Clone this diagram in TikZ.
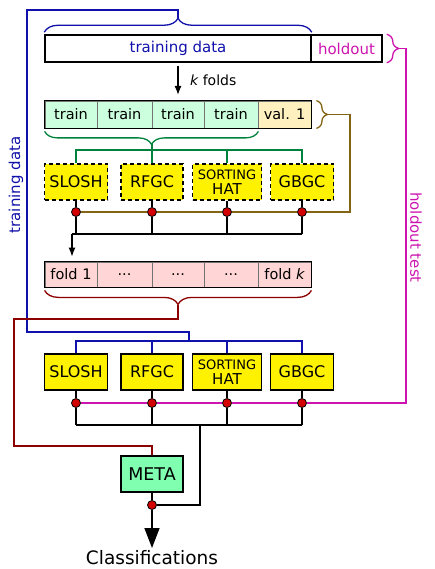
\documentclass[tikz,border=0pt]{standalone}
\usepackage{fontspec}
\setmainfont{DejaVu Sans}
\usetikzlibrary{arrows.meta,decorations.pathreplacing}
\definecolor{tdblue}{RGB}{16,16,170}
\definecolor{hmag}{RGB}{205,20,175}
\definecolor{grn}{RGB}{0,130,60}
\definecolor{olivec}{RGB}{130,100,20}
\definecolor{dred}{RGB}{140,0,0}
\definecolor{trainfill}{RGB}{204,255,221}
\definecolor{valfill}{RGB}{255,240,192}
\definecolor{foldfill}{RGB}{255,213,213}
\definecolor{metafill}{RGB}{128,255,176}
\definecolor{dotred}{RGB}{210,0,0}
\tikzset{
  bigbox/.style={draw=black, line width=1.5pt, minimum height=27pt, inner sep=0pt, font=\fontsize{15}{17}\selectfont},
  cell/.style={draw=black!55, line width=0.8pt, minimum height=27pt, inner sep=0pt, font=\fontsize{14.5}{16}\selectfont},
  clf/.style={draw=black, line width=1.5pt, fill=yellow, minimum height=36pt, inner sep=0pt, font=\fontsize{16}{18}\selectfont, align=center},
  clfd/.style={clf, dash pattern=on 4pt off 3pt},
  dotn/.style={circle, draw=black, fill=dotred, line width=0.8pt, minimum size=9pt, inner sep=0pt},
  conn/.style={line width=1.3pt},
  brc/.style={decorate, decoration={brace, amplitude=#1}, line width=1.3pt},
}
\begin{document}
\begin{tikzpicture}[x=1pt,y=-1pt]
\useasboundingbox (0,0) rectangle (435,569);
% top row
\node[bigbox, minimum width=266pt, text=tdblue] (td) at (178,48.5) {training data};
\node[bigbox, minimum width=71pt, text=hmag] (ho) at (346.5,48.5) {holdout};
% folds row
\node[cell, fill=trainfill, minimum width=52pt] (c1) at (71,114.5) {train};
\node[cell, fill=trainfill, minimum width=55pt] (c2) at (124.5,114.5) {train};
\node[cell, fill=trainfill, minimum width=52pt] (c3) at (178,114.5) {train};
\node[cell, fill=trainfill, minimum width=54pt] (c4) at (231,114.5) {train};
\node[cell, fill=valfill, minimum width=53pt] (c5) at (284.5,114.5) {val. 1};
\draw[line width=1.5pt] (c1.north west) rectangle (c5.south east);
% k folds arrow
\coordinate (ka) at (178,66);
\coordinate (kb) at (178,95);
\draw[conn, -{Latex[length=9pt,width=7pt]}] (ka) -- (kb);
\node[anchor=west, inner sep=0pt, font=\fontsize{14}{16}\selectfont] (kf) at (190,80) {\itshape k\upshape\ folds};
% level 1 classifiers
\node[clfd, minimum width=63pt] (s1) at (76,182) {SLOSH};
\node[clfd, minimum width=62pt] (s2) at (152,182) {RFGC};
\node[clfd, minimum width=69pt] (s3) at (227,182) {{\fontsize{13}{13}\selectfont SORTING}\\[-3pt]{\fontsize{15}{15}\selectfont HAT}};
\node[clfd, minimum width=63pt] (s4) at (302,182) {GBGC};
\node[dotn] (d1) at (76,212) {};
\node[dotn] (d2) at (152,212) {};
\node[dotn] (d3) at (227,212) {};
\node[dotn] (d4) at (302,212) {};
% folds row 2
\node[cell, fill=foldfill, minimum width=52pt, minimum height=25pt] (f1) at (71,274.5) {fold 1};
\node[cell, fill=foldfill, minimum width=55pt, minimum height=25pt] (f2) at (124.5,274.5) {...};
\node[cell, fill=foldfill, minimum width=52pt, minimum height=25pt] (f3) at (178,274.5) {...};
\node[cell, fill=foldfill, minimum width=54pt, minimum height=25pt] (f4) at (231,274.5) {...};
\node[cell, fill=foldfill, minimum width=53pt, minimum height=25pt] (f5) at (284.5,274.5) {fold \itshape k};
\draw[line width=1.5pt] (f1.north west) rectangle (f5.south east);
% level 2 classifiers
\node[clf, minimum width=63pt] (e1) at (76,372) {SLOSH};
\node[clf, minimum width=62pt] (e2) at (152,372) {RFGC};
\node[clf, minimum width=69pt] (e3) at (227,372) {{\fontsize{13}{13}\selectfont SORTING}\\[-3pt]{\fontsize{15}{15}\selectfont HAT}};
\node[clf, minimum width=63pt] (e4) at (302,372) {GBGC};
\node[dotn] (p1) at (76,403) {};
\node[dotn] (p2) at (152,403) {};
\node[dotn] (p3) at (227,403) {};
\node[dotn] (p4) at (302,403) {};
% meta
\node[draw=black, line width=1.5pt, fill=metafill, minimum width=62pt, minimum height=36pt, inner sep=0pt, font=\fontsize{17.5}{19}\selectfont] (meta) at (152,474) {META};
\node[dotn] (md) at (152,505) {};
\node[inner sep=0pt, font=\fontsize{18.5}{20}\selectfont] (cls) at (152,558) {Classifications};
\coordinate (ae) at (152,548);
\draw[conn, line width=1.6pt, -{Triangle[width=15pt,length=20pt]}] (md) -- (ae);
\draw[conn] (meta.south) -- (md);
% side labels
\node[rotate=90, text=tdblue, inner sep=0pt, font=\fontsize{15}{17}\selectfont] (tdl) at (16,185) {training data};
\node[rotate=-90, text=hmag, inner sep=0pt, font=\fontsize{15}{17}\selectfont] (hol) at (416,237.5) {holdout test};
% ---- blue
\draw[brc=14pt, tdblue] ([yshift=2pt]td.north west) -- ([yshift=2pt]td.north east);
\coordinate (bt) at (178,18);
\coordinate (bb) at (189,341);
\draw[conn, tdblue] (bt) -- (178,10) -- (27,10) -- (27,332) -- (189,332) -- (bb);
\draw[conn, tdblue] (e1.north) -- (e1.north |- bb) -- (e4.north |- bb) -- (e4.north);
\draw[conn, tdblue] (e2.north) -- (e2.north |- bb);
\draw[conn, tdblue] (e3.north) -- (e3.north |- bb);
% ---- green
\draw[brc=13pt, grn] ([yshift=-3pt]c4.south east) -- ([yshift=-3pt]c1.south west);
\coordinate (gt) at (152,144);
\coordinate (gb) at (152,150);
\draw[conn, grn] (gt) -- (gb);
\draw[conn, grn] (s1.north) -- (s1.north |- gb) -- (s4.north |- gb) -- (s4.north);
\draw[conn, grn] (s2.north) -- (s2.north |- gb);
\draw[conn, grn] (s3.north) -- (s3.north |- gb);
% ---- olive
\draw[brc=11pt, olivec] ([xshift=5pt]c5.north east) -- ([xshift=5pt]c5.south east);
\coordinate (ot) at (327,114.5);
\draw[conn, olivec] (ot) -- (350,114.5) -- (350,212) -- (d4);
\draw[conn, olivec] (d4) -- (d3);
\draw[conn, olivec] (d3) -- (d2);
\draw[conn, olivec] (d2) -- (d1);
% ---- level 1 black
\coordinate (b1) at (72,234);
\coordinate (b4) at (302,234);
\foreach \s/\d in {s1/d1,s2/d2,s3/d3,s4/d4}{
  \draw[conn] (\s.south) -- (\d);
  \draw[conn] (\d) -- (\d |- b1);
}
\draw[conn] (b1) -- (b4);
\draw[conn, -{Latex[length=9pt,width=7pt]}, shorten >=5pt] (b1) -- (b1 |- f1.north);
% ---- dark red
\draw[brc=14pt, dred] ([yshift=-3pt]f5.south east) -- ([yshift=-3pt]f1.south west);
\coordinate (rt) at (178,305);
\draw[conn, dred] (rt) -- (178,319) -- (14,319) -- (14,446) -| (meta.north);
% ---- magenta
\draw[brc=12pt, hmag] ([xshift=4pt]ho.north east) -- ([xshift=4pt]ho.south east);
\coordinate (ht) at (398,48.5);
\draw[conn, hmag] (ht) -- (406,48.5) -- (406,403) -- (p4);
\draw[conn, hmag] (p4) -- (p3);
\draw[conn, hmag] (p3) -- (p2);
\draw[conn, hmag] (p2) -- (p1);
% ---- level 2 black
\coordinate (q1) at (76,425);
\coordinate (q4) at (302,425);
\coordinate (bj) at (200,425);
\foreach \s/\d in {e1/p1,e2/p2,e3/p3,e4/p4}{
  \draw[conn] (\s.south) -- (\d);
  \draw[conn] (\d) -- (\d |- q1);
}
\draw[conn] (q1) -- (q4);
\draw[conn] (bj) |- (md);
\end{tikzpicture}
\end{document}
